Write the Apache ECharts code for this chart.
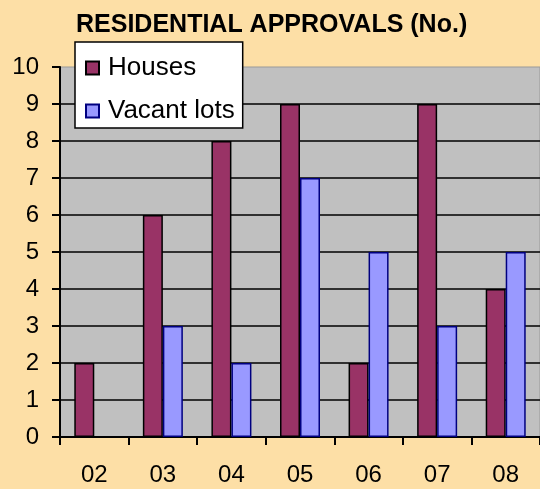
<!DOCTYPE html>
<html>
<head>
<meta charset="utf-8">
<script src="https://cdn.jsdelivr.net/npm/echarts@6/dist/echarts.min.js"></script>
<style>
  html, body { margin:0; padding:0; background:#FDDFA6; }
  #chart { width:540px; height:489px; }
</style>
</head>
<body>
<div id="chart"></div>
<script>
const years = ['02','03','04','05','06','07','08'];
const houses = [2, 6, 8, 9, 2, 9, 4];
const vacantLots = [null, 3, 2, 7, 5, 3, 5];

const chart = echarts.init(document.getElementById('chart'));

chart.setOption({
    backgroundColor: '#FDDFA6',
    animation: false,
    textStyle: { fontFamily: 'Arial, "Liberation Sans", sans-serif' },
    title: {
        text: 'RESIDENTIAL APPROVALS (No.)',
        left: 71, top: 8,
        textStyle: { fontSize: 25, fontWeight: 'bold', color:'#000', fontFamily:'Arial, "Liberation Sans", sans-serif' }
    },
    legend: {
        orient: 'vertical', left: 75, top: 42,
        padding: [13, 8, 4, 10],
        backgroundColor: '#fff', borderColor: '#000', borderWidth: 1.5,
        icon: 'rect', itemWidth: 13, itemHeight: 13, itemGap: 17,
        textStyle: { fontSize: 26, color: '#000', lineHeight: 25, padding: [0, 0, 0, 4] }
    },
    grid: {
        left: 60, right: -1, top: 67, bottom: 52,
        show: true, backgroundColor: '#C0C0C0', borderColor: '#999', borderWidth: 1
    },
    xAxis: {
        type: 'category', data: years,
        axisLine: { lineStyle: { color:'#000', width: 2 } },
        axisTick: { show: true, length: 8, lineStyle: { color:'#000', width: 2 } },
        axisLabel: { fontSize: 24, color:'#000', margin: 26 }
    },
    yAxis: {
        type: 'value', min: 0, max: 10, interval: 1,
        axisLine: { show: true, lineStyle: { color:'#000', width: 2 } },
        axisTick: { show: true, length: 8, lineStyle: { color:'#000', width: 2 } },
        axisLabel: { fontSize: 24, color:'#000', margin: 21 },
        splitLine: { show: true, showMaxLine: false, lineStyle: { color:'#000', width: 1.5 } }
    },
    series: [
        { name: 'Houses', type: 'bar', data: houses, barWidth: 20, barGap: '0%',
          itemStyle: { color:'#993366', borderColor:'#000', borderWidth: 1.5 } },
        { name: 'Vacant lots', type: 'bar', data: vacantLots, barWidth: 20, barGap: '0%',
          itemStyle: { color:'#9999FF', borderColor:'#000080', borderWidth: 1.5 } }
    ]
});
</script>
</body>
</html>
